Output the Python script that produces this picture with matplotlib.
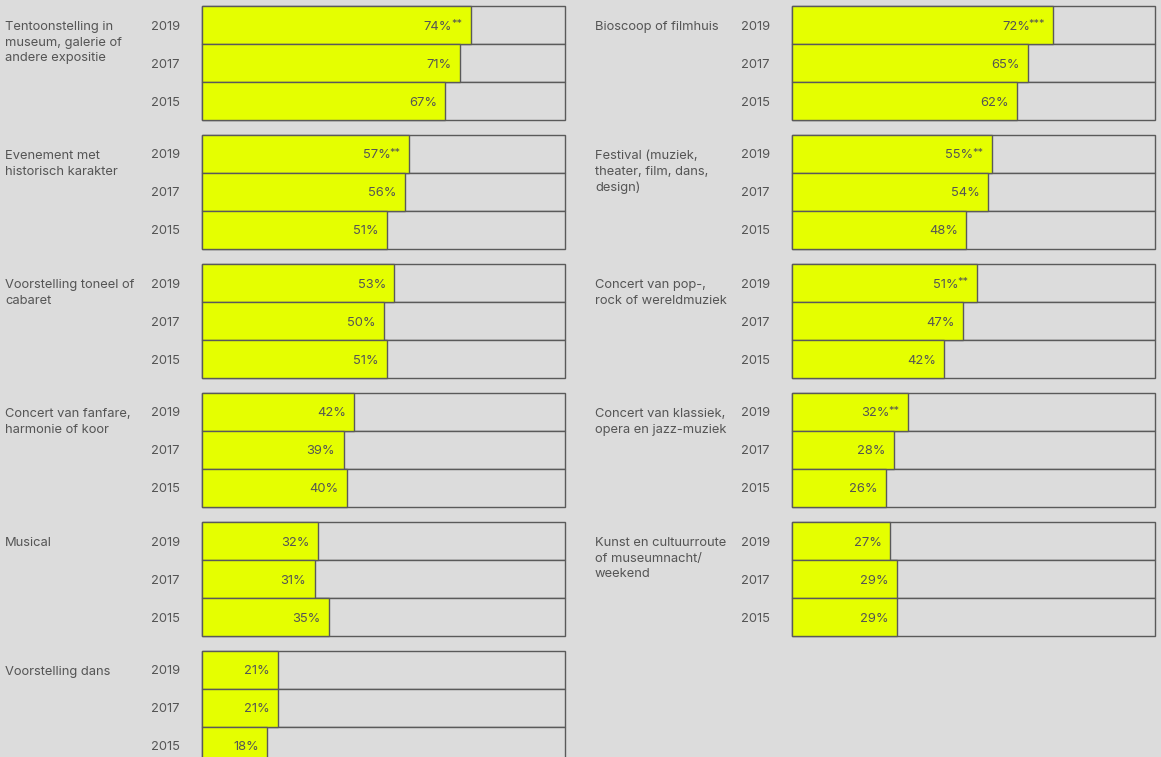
import matplotlib.pyplot as plt

# kleuren
BG = '#dcdcdc'
YELLOW = '#e5ff00'
EDGE = '#5a5a5a'
TEXT = '#555555'

plt.rcParams['font.family'] = ['Inter', 'DejaVu Sans']

YEARS = ['2019', '2017', '2015']

# linkerkolom
left_labels = [
    'Tentoonstelling in\nmuseum, galerie of\nandere expositie',
    'Evenement met\nhistorisch karakter',
    'Voorstelling toneel of\ncabaret',
    'Concert van fanfare,\nharmonie of koor',
    'Musical',
    'Voorstelling dans',
]
left_values = [
    [74, 71, 67],
    [57, 56, 51],
    [53, 50, 51],
    [42, 39, 40],
    [32, 31, 35],
    [21, 21, 18],
]
left_marks = ['**', '**', '', '', '', '']

# rechterkolom
right_labels = [
    'Bioscoop of filmhuis',
    'Festival (muziek,\ntheater, film, dans,\ndesign)',
    'Concert van pop-,\nrock of wereldmuziek',
    'Concert van klassiek,\nopera en jazz-muziek',
    'Kunst en cultuurroute\nof museumnacht/\nweekend',
]
right_values = [
    [72, 65, 62],
    [55, 54, 48],
    [51, 47, 42],
    [32, 28, 26],
    [27, 29, 29],
]
right_marks = ['***', '**', '**', '**', '']

W, H = 1161, 757
fig = plt.figure(figsize=(W / 100, H / 100), dpi=100)
fig.patch.set_facecolor(BG)

BOX_W = 363
GROUP_H = 114
PITCH = 129
FS = 9.3


def draw_group(x0, top, label, values, mark):
    """Eén groep van drie balken tekenen (px-coördinaten)"""
    ax = fig.add_axes([x0 / W, (H - top - GROUP_H) / H, BOX_W / W, GROUP_H / H])
    ax.set_facecolor(BG)
    ys = [0.5, 1.5, 2.5]
    bg = ax.barh(ys, [100] * 3, height=1, color=BG, edgecolor=EDGE, linewidth=1)
    fg = ax.barh(ys, values, height=1, color=YELLOW, edgecolor=EDGE, linewidth=1)
    for p in list(bg) + list(fg):
        p.set_clip_on(False)
    ax.set_xlim(0, 100)
    ax.set_ylim(3, 0)
    ax.axis('off')
    for i, (y, v) in enumerate(zip(ys, values)):
        if i == 0 and mark:
            # sterretjes iets kleiner en hoger
            ax.annotate(mark, (v, y), xytext=(-6, 1.5), textcoords='offset points',
                        ha='right', va='center_baseline', fontsize=FS - 1.5, color=TEXT)
            off = -6 - 3.6 * len(mark)
        else:
            off = -6
        ax.annotate(f'{v}%', (v, y), xytext=(off, 0), textcoords='offset points',
                    ha='right', va='center_baseline', fontsize=FS, color=TEXT)
        ax.text(-22 / BOX_W * 100, y, YEARS[i], ha='right', va='center_baseline',
                fontsize=FS, color=TEXT)
    ax.text(-197 / BOX_W * 100, 0.5 - 0.1, label, ha='left', va='top',
            fontsize=FS, color=TEXT, linespacing=1.4)


for i, (lab, vals, mk) in enumerate(zip(left_labels, left_values, left_marks)):
    draw_group(202, 6 + PITCH * i, lab, vals, mk)

for i, (lab, vals, mk) in enumerate(zip(right_labels, right_values, right_marks)):
    draw_group(792, 6 + PITCH * i, lab, vals, mk)

plt.savefig('out.png', dpi=100, facecolor=BG)
